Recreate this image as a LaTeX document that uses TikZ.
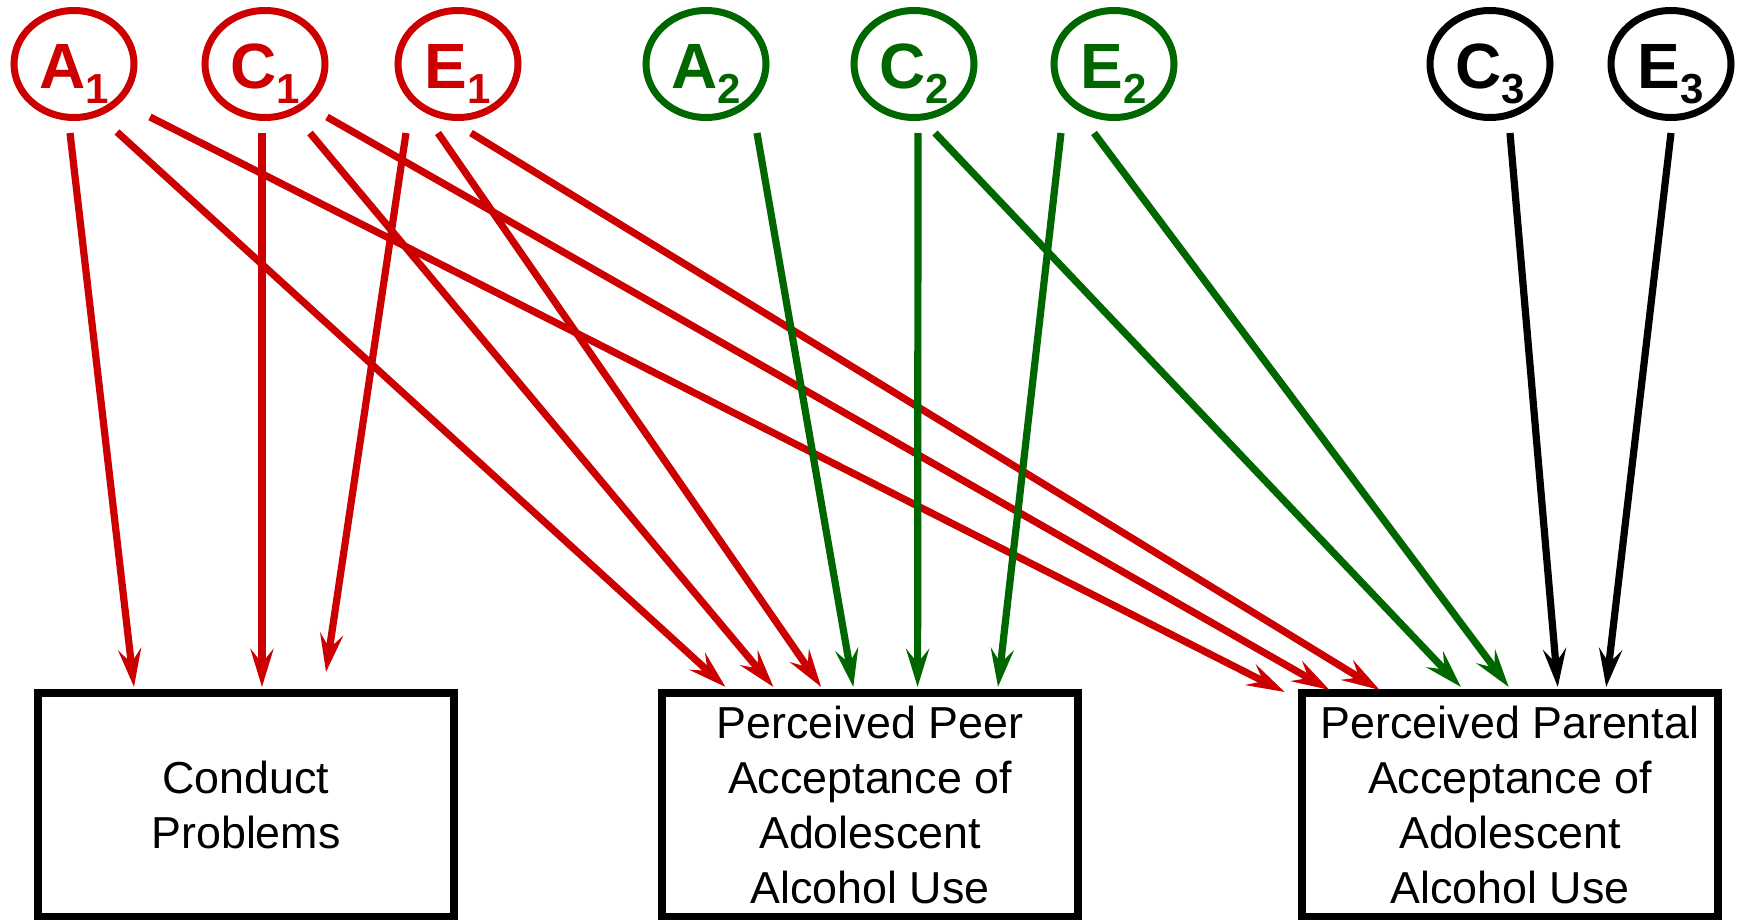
\documentclass[tikz,border=0pt]{standalone}
\usepackage{fontspec}
\setmainfont{Liberation Sans}
\usetikzlibrary{shapes.geometric, arrows.meta}

\definecolor{acered}{RGB}{204,0,0}
\definecolor{acegreen}{RGB}{0,102,0}

\newcommand{\acelabel}[2]{{\fontsize{32pt}{32pt}\selectfont\bfseries #1\raisebox{-7.5pt}{\fontsize{21pt}{21pt}\selectfont #2}}}

\tikzset{
  factor/.style = {draw, shape = ellipse, line width = 3.5pt, inner sep = 0pt,
    minimum width = 60pt, minimum height = 53.5pt, text height = 24.3pt, text depth = 0pt},
  outcome/.style = {draw = black, line width = 3.75pt, inner sep = 0pt,
    minimum width = 208pt, minimum height = 111.75pt, align = center,
    font = \fontsize{22.4pt}{27.5pt}\selectfont},
  redpath/.style = {draw = acered, line width = 3.6pt, -{Stealth[length = 19pt, width = 11.5pt, inset = 7pt]}},
  greenpath/.style = {redpath, draw = acegreen},
  blackpath/.style = {redpath, draw = black}
}

\begin{document}
\begin{tikzpicture}[x = 0.5pt, y = -0.5pt]
\useasboundingbox (0, 0) rectangle (1742, 921);

\node [factor, acered] (A1) at (74, 64) {\acelabel{A}{1}};
\node [factor, acered] (C1) at (265, 64) {\acelabel{C}{1}};
\node [factor, acered] (E1) at (458, 64) {\acelabel{E}{1}};
\node [factor, acegreen] (A2) at (706, 64) {\acelabel{A}{2}};
\node [factor, acegreen] (C2) at (914, 64) {\acelabel{C}{2}};
\node [factor, acegreen] (E2) at (1114, 64) {\acelabel{E}{2}};
\node [factor, black] (C3) at (1490, 64) {\acelabel{C}{3}};
\node [factor, black] (E3) at (1671, 64) {\acelabel{E}{3}};

\node [outcome] (cp) at (246, 804.5) {Conduct\\Problems};
\node [outcome] (peer) at (870, 804.5) {Perceived Peer\\Acceptance of\\Adolescent\\Alcohol Use};
\node [outcome] (parent) at (1510, 804.5) {Perceived Parental\\Acceptance of\\Adolescent\\Alcohol Use};

% first set of factors
\path [redpath] ([shift={(-4,69)}]A1.center) -- ([shift={(-112,-117.5)}]cp.center);
\path [redpath] ([shift={(43,68)}]A1.center) -- ([shift={(-144.5,-117.5)}]peer.center);
\path [redpath] ([shift={(76,53)}]A1.center) -- ([shift={(-225.3,-112.5)}]parent.center);
\path [redpath] ([shift={(-3,69)}]C1.center) -- ([shift={(16,-117.5)}]cp.center);
\path [redpath] ([shift={(45,69)}]C1.center) -- ([shift={(-96.6,-117.5)}]peer.center);
\path [redpath] ([shift={(62,53)}]C1.center) -- ([shift={(-180.4,-114.5)}]parent.center);
\path [redpath] ([shift={(-52,69)}]E1.center) -- ([shift={(80,-132.5)}]cp.center);
\path [redpath] ([shift={(-20,69)}]E1.center) -- ([shift={(-48.8,-117.5)}]peer.center);
\path [redpath] ([shift={(13,69)}]E1.center) -- ([shift={(-130.3,-114.5)}]parent.center);

% second set
\path [greenpath] ([shift={(51,69)}]A2.center) -- ([shift={(-16.7,-117.5)}]peer.center);
\path [greenpath] ([shift={(4,69)}]C2.center) -- ([shift={(47.6,-117.5)}]peer.center);
\path [greenpath] ([shift={(21,69)}]C2.center) -- ([shift={(-49,-117.5)}]parent.center);
\path [greenpath] ([shift={(-53,69)}]E2.center) -- ([shift={(128,-117.5)}]peer.center);
\path [greenpath] ([shift={(-20,69)}]E2.center) -- ([shift={(-1.3,-117.5)}]parent.center);

% third set
\path [blackpath] ([shift={(20,69)}]C3.center) -- ([shift={(47.8,-117.5)}]parent.center);
\path [blackpath] ([shift={(0,69)}]E3.center) -- ([shift={(96.2,-117.5)}]parent.center);
\end{tikzpicture}
\end{document}
